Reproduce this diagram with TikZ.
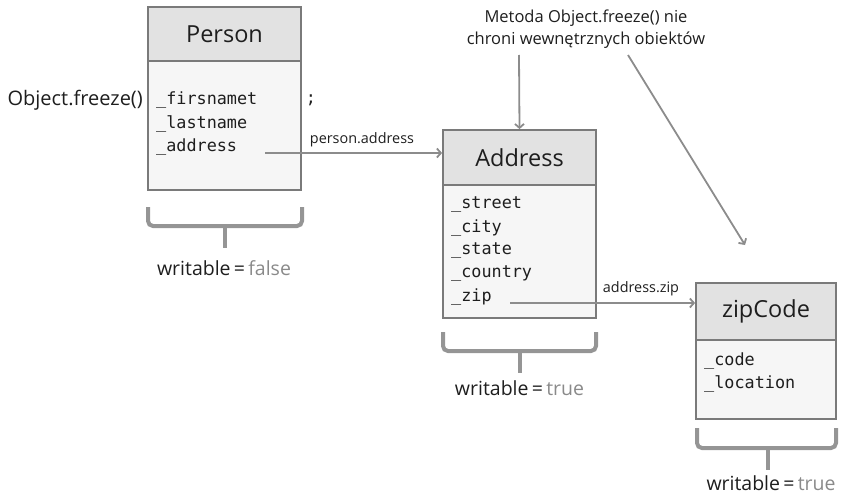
\documentclass[tikz,border=0pt]{standalone}
\usepackage{fontspec}
\setmainfont{Open Sans}
\setmonofont{DejaVu Sans Mono}
\usetikzlibrary{arrows.meta}
\definecolor{txt}{HTML}{1E1E1E}
\definecolor{soft}{HTML}{8A8A8A}
\definecolor{edge}{HTML}{7A7A7A}
\definecolor{hdrfill}{HTML}{E2E2E2}
\definecolor{bodyfill}{HTML}{F6F6F6}
\definecolor{linegray}{HTML}{8C8C8C}
\definecolor{bracegray}{HTML}{959595}
\tikzset{
  hdr/.style={draw=edge, line width=1.8pt, fill=hdrfill, inner sep=0pt, text=txt, font=\fontsize{23.5}{26}\selectfont},
  bodybox/.style={draw=edge, line width=1.8pt, fill=bodyfill, inner sep=0pt},
  field/.style={anchor=west, inner sep=0pt, text=txt, font=\ttfamily\fontsize{16.8}{18}\selectfont},
  lbl/.style={inner sep=0pt, text=txt, font=\fontsize{14.4}{16}\selectfont},
  conn/.style={draw=linegray, line width=1.8pt, -{Straight Barb[length=4pt,width=9pt,line width=1.8pt]}},
  bracepath/.style={draw=bracegray, line width=4pt, rounded corners=5pt},
  bracestem/.style={draw=bracegray, line width=4pt},
  wr/.style={inner sep=0pt, text=txt, font=\fontsize{19.5}{21}\selectfont},
}
\begin{document}
\begin{tikzpicture}[x=1pt,y=1pt]
\useasboundingbox (0,0) rectangle (841,-495);
% Person
\node[bodybox, minimum width=153, minimum height=129] (personB) at (224.5,-125.5) {};
\node[hdr, minimum width=153, minimum height=54] (personH) at (224.5,-34) {Person};
\node[field] (pf1) at (156,-100) {\_firsnamet};
\node[field] (pf2) at (156,-124) {\_lastname};
\node[field] (pf3) at (156,-147) {\_address};
\node[inner sep=0pt, text=txt, font=\fontsize{20}{22}\selectfont, anchor=east] (freeze) at (143,-100) {Object.freeze()};
\node[inner sep=0pt, text=txt, font=\ttfamily\fontsize{16.8}{18}\selectfont] (semi) at (311,-100) {;};
% Address
\node[bodybox, minimum width=153, minimum height=133] (addrB) at (519.5,-251.5) {};
\node[hdr, minimum width=153, minimum height=55] (addrH) at (519.5,-157.5) {Address};
\node[field] (af1) at (451,-205) {\_street};
\node[field] (af2) at (451,-228) {\_city};
\node[field] (af3) at (451,-251) {\_state};
\node[field] (af4) at (451,-274) {\_country};
\node[field] (af5) at (451,-297) {\_zip};
% zipCode
\node[bodybox, minimum width=140, minimum height=79] (zipB) at (766,-379.5) {};
\node[hdr, minimum width=140, minimum height=57] (zipH) at (766,-311.5) {zipCode};
\node[field] (zf1) at (704,-361) {\_code};
\node[field] (zf2) at (704,-384) {\_location};
% annotation
\node[inner sep=0pt, text=txt, align=center, font=\fontsize{16.5}{22}\selectfont] (note) at (586,-29) {Metoda Object.freeze() nie\\chroni wewnętrznych obiektów};
% connectors
\coordinate (pstart) at (265,-153);
\coordinate (zstart) at (510,-303);
\coordinate (n1) at (519,-55);
\coordinate (n2) at (628,-55);
\coordinate (n2end) at (745,-245);
\draw[conn] (pstart) -- (addrH.west |- pstart);
\node[lbl, anchor=south] (plbl) at (362,-147) {person.address};
\draw[conn] (zstart) -- (zipH.west |- zstart);
\node[lbl, anchor=south] (zlbl) at (641,-296) {address.zip};
\draw[conn] (n1) -- (addrH.north);
\draw[conn] (n2) -- (n2end);
% braces
\draw[bracepath] (148,-207) -- (148,-226) -- (302,-226) -- (302,-207);
\draw[bracestem] (225,-226) -- (225,-248);
\node[wr] (w1) at (224,-268) {writable\,=\,\textcolor{soft}{false}};
\draw[bracepath] (443,-332) -- (443,-351) -- (596,-351) -- (596,-332);
\draw[bracestem] (519.5,-351) -- (519.5,-373);
\node[wr] (w2) at (519.5,-388) {writable\,=\,\textcolor{soft}{true}};
\draw[bracepath] (697,-428) -- (697,-448) -- (836,-448) -- (836,-428);
\draw[bracestem] (768,-448) -- (768,-470);
\node[wr] (w3) at (771,-483) {writable\,=\,\textcolor{soft}{true}};
\end{tikzpicture}
\end{document}
